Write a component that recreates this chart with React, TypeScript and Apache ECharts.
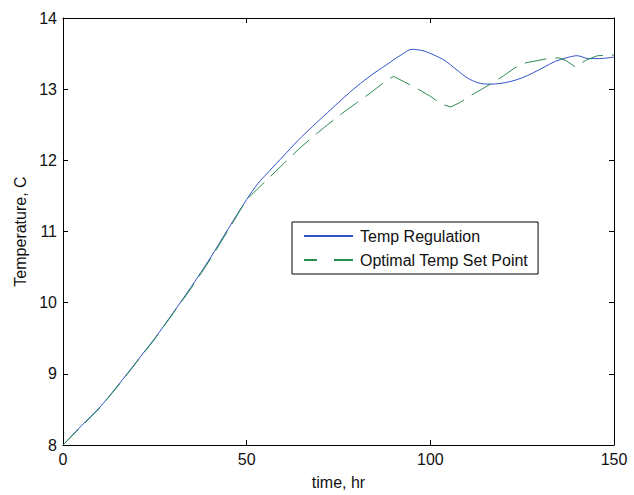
import React, { useEffect, useRef } from "react";
import * as echarts from "echarts";

const regTime = [0, 5, 10, 15, 20, 25, 30, 35, 40, 45, 50, 53, 56, 60, 64, 68, 72, 76, 80, 84, 88, 92, 95, 98, 101, 104, 107, 110, 113, 116, 119, 122, 125, 128, 131, 134, 137, 140, 143, 146, 150];
const regTemp = [8.0, 8.27, 8.53, 8.84, 9.17, 9.5, 9.86, 10.23, 10.62, 11.04, 11.45, 11.67, 11.84, 12.06, 12.28, 12.48, 12.67, 12.86, 13.04, 13.2, 13.34, 13.48, 13.56, 13.54, 13.48, 13.4, 13.28, 13.16, 13.09, 13.07, 13.08, 13.11, 13.16, 13.23, 13.31, 13.39, 13.44, 13.47, 13.43, 13.43, 13.45];

const setTime = [0, 5, 10, 15, 20, 25, 30, 35, 40, 45, 50, 53, 56, 60, 64, 68, 72, 76, 80, 84, 88, 90, 93, 96, 100, 103, 105.5, 108, 111, 114, 117, 120, 123, 126, 129, 132, 135, 137, 139.5, 142.5, 145.5, 150];
const setTemp = [8.0, 8.26, 8.52, 8.83, 9.16, 9.49, 9.85, 10.21, 10.6, 11.02, 11.45, 11.6, 11.75, 11.95, 12.15, 12.33, 12.5, 12.66, 12.81, 12.96, 13.12, 13.18, 13.1, 13.02, 12.9, 12.79, 12.75, 12.81, 12.91, 13.0, 13.09, 13.19, 13.3, 13.37, 13.4, 13.43, 13.44, 13.4, 13.31, 13.41, 13.47, 13.48];

const seriesNames = ["Temp Regulation", "Optimal Temp Set Point"];
const xTicks = { min: 0, max: 150, interval: 50 };
const yTicks = { min: 8, max: 14, interval: 1 };

const FONT = "'Liberation Sans', Arial, sans-serif";
const BLUE = "#2f52c8";
const GREEN = "#2a8c4e";

export default function App() {
  const ref = useRef<HTMLDivElement>(null);
  useEffect(() => {
    if (!ref.current) return;
    const chart = echarts.init(ref.current, undefined, { renderer: "svg" });
    const regData = regTime.map((t, i) => [t, regTemp[i]]);
    const setData = setTime.map((t, i) => [t, setTemp[i]]);
    const axisLine = { show: true, onZero: false, lineStyle: { color: "#000", width: 1 } };
    const axisTick = { show: true, inside: true, length: 5, lineStyle: { color: "#000" } };
    const label = { color: "#111", fontSize: 16, fontFamily: FONT };
    chart.setOption({
      animation: false,
      backgroundColor: "#fff",
      grid: { left: 63, right: 20, top: 18, bottom: 45, containLabel: false },
      xAxis: [
        {
          type: "value",
          ...xTicks,
          name: "time, hr",
          nameLocation: "middle",
          nameGap: 29,
          nameTextStyle: { color: "#111", fontSize: 16, fontFamily: FONT },
          axisLine,
          axisTick,
          axisLabel: { ...label, margin: 6 },
          splitLine: { show: false },
        },
        {
          type: "value",
          position: "top",
          ...xTicks,
          axisLine,
          axisTick,
          axisLabel: { show: false },
          splitLine: { show: false },
        },
      ],
      yAxis: [
        {
          type: "value",
          ...yTicks,
          name: "Temperature, C",
          nameLocation: "middle",
          nameGap: 34,
          nameTextStyle: { color: "#111", fontSize: 16, fontFamily: FONT },
          axisLine,
          axisTick,
          axisLabel: { ...label, margin: 6 },
          splitLine: { show: false },
        },
        {
          type: "value",
          position: "right",
          ...yTicks,
          axisLine,
          axisTick,
          axisLabel: { show: false },
          splitLine: { show: false },
        },
      ],
      legend: {
        left: 292,
        top: 222,
        orient: "vertical",
        backgroundColor: "#fff",
        borderColor: "#000",
        borderWidth: 1,
        borderRadius: 0,
        padding: [6, 10, 6, 11],
        itemWidth: 49,
        itemHeight: 16,
        itemGap: 8,
        itemStyle: { opacity: 0 },
        textStyle: { color: "#111", fontSize: 16, fontFamily: FONT, padding: [0, 0, 0, 2] },
        data: [
          { name: seriesNames[0] },
          { name: seriesNames[1], lineStyle: { type: [13, 17, 19, 10] } },
        ],
      },
      series: [
        {
          name: seriesNames[0],
          type: "line",
          data: regData,
          showSymbol: false,
          symbol: "none",
          smooth: 0.3,
          lineStyle: { color: BLUE, width: 1 },
          itemStyle: { color: BLUE },
        },
        {
          name: seriesNames[1],
          type: "line",
          data: setData,
          showSymbol: false,
          symbol: "none",
          lineStyle: { color: GREEN, width: 1, type: [22, 9] },
          itemStyle: { color: GREEN },
        },
      ],
    });
    return () => chart.dispose();
  }, []);
  return (
    <div
      ref={ref}
      style={{ position: "absolute", left: 0, top: 0, width: 634, height: 495, background: "#fff" }}
    />
  );
}
